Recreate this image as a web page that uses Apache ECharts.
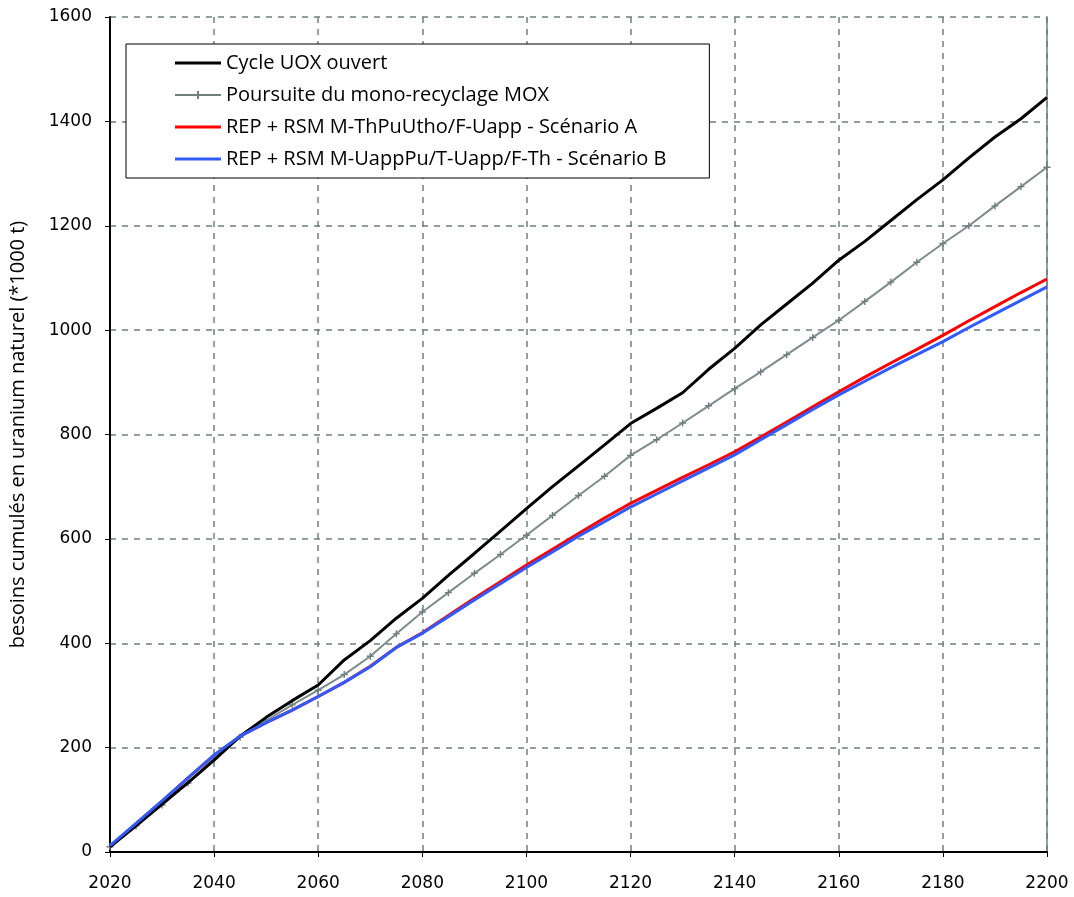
<!DOCTYPE html>
<html>
<head>
<meta charset="utf-8">
<script src="https://cdn.jsdelivr.net/npm/echarts@6/dist/echarts.min.js"></script>
<style>
  html, body { margin: 0; padding: 0; background: #fff; }
  #chart { width: 1074px; height: 897px; }
</style>
</head>
<body>
<div id="chart"></div>
<script>
// années (pas de 5 ans)
const years = [
  2020, 2025, 2030, 2035, 2040, 2045, 2050, 2055, 2060, 2065,
  2070, 2075, 2080, 2085, 2090, 2095, 2100, 2105, 2110, 2115,
  2120, 2125, 2130, 2135, 2140, 2145, 2150, 2155, 2160, 2165,
  2170, 2175, 2180, 2185, 2190, 2195, 2200
]

// besoins cumulés (*1000 t)
const uoxOuvert = [
  10, 50, 92, 133, 176, 222, 258, 290, 320, 368,
  405, 448, 486, 530, 572, 615, 658, 700, 740, 780,
  821, 850, 880, 925, 965, 1010, 1050, 1090, 1134, 1170,
  1210, 1250, 1288, 1330, 1370, 1405, 1446
]
const monoRecyclageMox = [
  10, 50, 90, 132, 180, 220, 252, 282, 310, 340,
  375, 418, 460, 497, 534, 570, 607, 645, 683, 720,
  760, 790, 822, 855, 888, 920, 953, 986, 1019, 1055,
  1092, 1130, 1166, 1200, 1238, 1275, 1312
]
const scenarioA = [
  10, 54, 97, 142, 185, 222, 248, 272, 298, 325,
  356, 392, 420, 453, 486, 518, 550, 580, 610, 640,
  668, 693, 718, 742, 767, 795, 824, 853, 882, 910,
  937, 963, 990, 1018, 1045, 1072, 1098
]
const scenarioB = [
  12, 55, 98, 142, 186, 222, 248, 272, 298, 325,
  355, 392, 419, 451, 483, 514, 545, 575, 605, 633,
  661, 686, 711, 736, 761, 790, 819, 848, 876, 902,
  928, 953, 978, 1005, 1031, 1057, 1083
]

const seriesNames = [
  'Cycle UOX ouvert',
  'Poursuite du mono-recyclage MOX',
  'REP + RSM M-ThPuUtho/F-Uapp - Scénario A',
  'REP + RSM M-UappPu/T-Uapp/F-Th - Scénario B'
]

const gridColor = '#6f7f80'
const plusSymbol = 'path://M4,0H6V4H10V6H6V10H4V6H0V4H4Z'
// icônes de légende : trait seul, trait + croix
const lineIcon = 'path://M0,0H46V3H0Z'
const plusLineIcon = 'path://M0,4H22V1H24V4H46V6H24V9H22V6H0Z'

const pairs = (vals) => years.map((y, i) => [y, vals[i]])

const chart = echarts.init(document.getElementById('chart'))

const tickFont = {
  fontFamily: 'DejaVu Sans',
  fontSize: 17,
  color: '#000',
  formatter: (v) => String(v),
}

const option = {
  animation: false,
  backgroundColor: '#fff',
  grid: {
    left: 108,
    right: 27,
    top: 17,
    bottom: 45,
  },
  legend: {
    orient: 'vertical',
    left: 126,
    top: 44,
    padding: [9, 43, 9, 49],
    itemGap: 12,
    itemWidth: 46,
    itemHeight: 14,
    borderColor: '#000',
    borderWidth: 1,
    backgroundColor: '#fff',
    textStyle: {
      fontFamily: 'Open Sans',
      fontSize: 20,
      color: '#000',
      padding: [0, 0, 0, 0],
    },
    data: [
      { name: seriesNames[0], icon: lineIcon },
      { name: seriesNames[1], icon: plusLineIcon },
      { name: seriesNames[2], icon: lineIcon },
      { name: seriesNames[3], icon: lineIcon },
    ],
  },
  xAxis: {
    type: 'value',
    min: 2020,
    max: 2200,
    interval: 20,
    axisLine: { lineStyle: { color: '#000', width: 2 } },
    axisTick: { show: true, length: 5, lineStyle: { color: '#000' } },
    axisLabel: Object.assign({ margin: 23 }, tickFont),
    splitLine: {
      show: true,
      lineStyle: { color: gridColor, type: [6, 6], width: 1.5 },
    },
  },
  yAxis: [
    {
      type: 'value',
      min: 0,
      max: 1600,
      interval: 200,
      name: 'besoins cumulés en uranium naturel (*1000 t)',
      nameLocation: 'middle',
      nameGap: 82,
      nameTextStyle: {
        fontFamily: 'Open Sans',
        fontSize: 20,
        color: '#000',
      },
      axisLine: { show: true, lineStyle: { color: '#000', width: 2 } },
      axisTick: { show: true, length: 5, lineStyle: { color: '#000' } },
      axisLabel: Object.assign({ margin: 18 }, tickFont),
      splitLine: {
        show: true,
        lineStyle: { color: gridColor, type: [6, 6], width: 1.5 },
      },
    },
    {
      type: 'value',
      min: 0,
      max: 1600,
      interval: 200,
      position: 'right',
      axisLine: { show: true, lineStyle: { color: gridColor, width: 1.5 } },
      axisTick: { show: false },
      axisLabel: { show: false },
      splitLine: { show: false },
    },
  ],
  series: [
    {
      name: seriesNames[0],
      type: 'line',
      data: pairs(uoxOuvert),
      symbol: 'none',
      lineStyle: { color: '#000', width: 3 },
      itemStyle: { color: '#000' },
      z: 4,
    },
    {
      name: seriesNames[1],
      type: 'line',
      data: pairs(monoRecyclageMox),
      symbol: plusSymbol,
      symbolSize: 7,
      lineStyle: { color: '#7d8c8c', width: 2 },
      itemStyle: { color: '#6f7f80' },
      z: 3,
    },
    {
      name: seriesNames[2],
      type: 'line',
      data: pairs(scenarioA),
      symbol: 'none',
      lineStyle: { color: '#ff0000', width: 3 },
      itemStyle: { color: '#ff0000' },
      z: 2,
    },
    {
      name: seriesNames[3],
      type: 'line',
      data: pairs(scenarioB),
      symbol: 'none',
      lineStyle: { color: '#2f5bff', width: 3 },
      itemStyle: { color: '#2f5bff' },
      z: 5,
    },
  ],
}

chart.setOption(option)
</script>
</body>
</html>
